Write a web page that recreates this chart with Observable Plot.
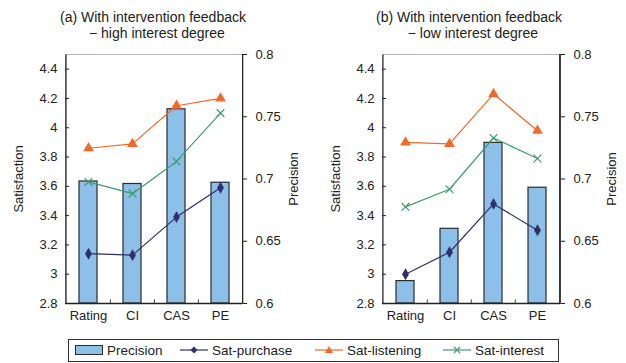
<!DOCTYPE html>
<html>
<head>
<meta charset="utf-8">
<script src="https://cdn.jsdelivr.net/npm/d3@7"></script>
<script src="https://cdn.jsdelivr.net/npm/@observablehq/plot@0.6"></script>
<style>
  body { margin: 0; background: #fff; font-family: "Liberation Sans", Arial, sans-serif; }
  #page { position: relative; width: 626px; height: 363px; overflow: hidden; }
  .panel { position: absolute; top: 0; width: 313px; height: 330px; }
  .title { position: absolute; top: 9px; font-size: 14px; line-height: 16px; color: #222; text-align: center; white-space: nowrap; }
  .chart { position: absolute; top: 40px; left: 0; }
  #legend { position: absolute; left: 68px; top: 339px; width: 489px; height: 21px; border: 1px solid #333; font-size: 13.5px; color: #222; }
  .li { position: absolute; top: 2px; display: flex; align-items: center; gap: 4px; white-space: nowrap; }
</style>
</head>
<body>
<div id="page">
  <div class="panel" id="pa" style="left:0">
    <div class="title" style="left:53px;width:200px">(a) With intervention feedback<br>&nbsp;&nbsp;− high interest degree</div>
  </div>
  <div class="panel" id="pb" style="left:313px">
    <div class="title" style="left:56px;width:200px">(b) With intervention feedback<br>&nbsp;&nbsp;− low interest degree</div>
  </div>
  <div id="legend"></div>
</div>
<script>
// ---- data ----
const categories = ["Rating", "CI", "CAS", "PE"];
const precisionA = [0.698, 0.696, 0.756, 0.697];
const purchaseA  = [3.14, 3.13, 3.39, 3.59];
const listeningA = [3.86, 3.89, 4.15, 4.20];
const interestA  = [3.63, 3.55, 3.77, 4.10];
const precisionB = [0.618, 0.660, 0.729, 0.693];
const purchaseB  = [3.00, 3.15, 3.48, 3.30];
const listeningB = [3.90, 3.89, 4.23, 3.98];
const interestB  = [3.46, 3.58, 3.93, 3.79];
const satTicks  = [2.8, 3, 3.2, 3.4, 3.6, 3.8, 4, 4.2, 4.4];
const precTicks = [0.6, 0.65, 0.7, 0.75, 0.8];
const satDomain  = [2.8, 4.5];
const precDomain = [0.6, 0.8];

const C = {bar: "#8dc0e8", barStroke: "#2b2b2b", purchase: "#2f2f6b", listening: "#f26a2b", interest: "#3f9e6c"};
const FONT = "Liberation Sans, Arial, sans-serif";

// map precision (right axis) onto the satisfaction scale (left axis)
const toSat = p => satDomain[0] + (p - precDomain[0]) / (precDomain[1] - precDomain[0]) * (satDomain[1] - satDomain[0]);
const fromSat = s => precDomain[0] + (s - satDomain[0]) / (satDomain[1] - satDomain[0]) * (precDomain[1] - precDomain[0]);

function panel(prec, pur, lis, int, ml, mr) {
  const W = 313, H = 288, mt = 14, mb = 25;
  const rows = categories.map((c, i) => ({cat: c, prec: prec[i], pur: pur[i], lis: lis[i], int: int[i]}));
  const step = (W - ml - mr) / categories.length;
  return Plot.plot({
    width: W, height: H, marginLeft: ml, marginRight: mr, marginTop: mt, marginBottom: mb,
    style: {fontFamily: FONT, fontSize: "13px", color: "#222", background: "transparent"},
    x: {domain: categories, paddingInner: 0.6, paddingOuter: 0.3, label: null},
    y: {domain: satDomain, label: null},
    marks: [
      Plot.barY(rows, {x: "cat", y1: satDomain[0], y2: d => toSat(d.prec), fill: C.bar, stroke: C.barStroke, strokeWidth: 1.2}),
      Plot.line(rows, {x: "cat", y: "pur", stroke: C.purchase, strokeWidth: 1.2}),
      Plot.dot(rows, {x: "cat", y: "pur", symbol: "diamond", fill: C.purchase, r: 3.6}),
      Plot.line(rows, {x: "cat", y: "lis", stroke: C.listening, strokeWidth: 1.2}),
      Plot.dot(rows, {x: "cat", y: "lis", symbol: "triangle", fill: C.listening, r: 4}),
      Plot.line(rows, {x: "cat", y: "int", stroke: C.interest, strokeWidth: 1.2}),
      Plot.dot(rows, {x: "cat", y: "int", symbol: "times", stroke: C.interest, r: 3.6, strokeWidth: 1.2}),
      // frame
      Plot.frame({stroke: "#555", strokeWidth: 1}),
      Plot.ruleY([satDomain[1]], {stroke: "#bbb", strokeWidth: 1.2}),
      Plot.ruleX([categories[0]], {dx: -step / 2, stroke: "#666"}),
      Plot.ruleX([categories[categories.length - 1]], {dx: step / 2, stroke: "#222", strokeWidth: 1.3}),
      Plot.ruleY([satDomain[0]], {stroke: "#222", strokeWidth: 1.3}),
      // category separators
      Plot.ruleX(categories.slice(1), {dx: -step / 2, y1: satDomain[0], y2: satDomain[0] + 0.025, stroke: "#444"}),
      // axes
      Plot.axisX({tickSize: 0, tickPadding: 7, fontSize: 13}),
      Plot.axisY(satTicks, {anchor: "left", tickSize: -4, tickPadding: 12, tickFormat: d => String(d),
        label: "Satisfaction", labelAnchor: "center", labelArrow: "none", labelOffset: 52, fontSize: 13}),
      Plot.axisY(precTicks.map(toSat), {anchor: "right", tickSize: 4, tickPadding: 9,
        tickFormat: v => String(+fromSat(v).toFixed(2)),
        label: "Precision", labelAnchor: "center", labelArrow: "none", labelOffset: 55, fontSize: 13})
    ]
  });
}

const a = panel(precisionA, purchaseA, listeningA, interestA, 65, 71);
a.classList.add("chart");
document.getElementById("pa").appendChild(a);
const b = panel(precisionB, purchaseB, listeningB, interestB, 69, 66);
b.classList.add("chart");
document.getElementById("pb").appendChild(b);

// legend
const legendItems = [
  {name: "Precision", type: "bar", left: 6},
  {name: "Sat-purchase", type: "diamond", color: C.purchase, left: 111},
  {name: "Sat-listening", type: "triangle", color: C.listening, left: 246},
  {name: "Sat-interest", type: "times", color: C.interest, left: 374}
];
const leg = document.getElementById("legend");
for (const it of legendItems) {
  const d = document.createElement("div");
  d.className = "li";
  d.style.left = it.left + "px";
  let sw;
  if (it.type === "bar") {
    sw = `<svg width="28" height="16"><rect x="0.5" y="3.5" width="27" height="9" fill="${C.bar}" stroke="${C.barStroke}"/></svg>`;
  } else {
    let m = "";
    if (it.type === "diamond") m = `<path d="M14,4.5 L17.5,8 L14,11.5 L10.5,8Z" fill="${it.color}"/>`;
    if (it.type === "triangle") m = `<path d="M14,4 L18,11 L10,11Z" fill="${it.color}"/>`;
    if (it.type === "times") m = `<path d="M11,5 L17,11 M17,5 L11,11" stroke="${it.color}" stroke-width="1.2"/>`;
    sw = `<svg width="28" height="16"><line x1="0" y1="8" x2="28" y2="8" stroke="${it.color}" stroke-width="1.2"/>${m}</svg>`;
  }
  d.innerHTML = sw + `<span>${it.name}</span>`;
  leg.appendChild(d);
}
</script>
</body>
</html>
